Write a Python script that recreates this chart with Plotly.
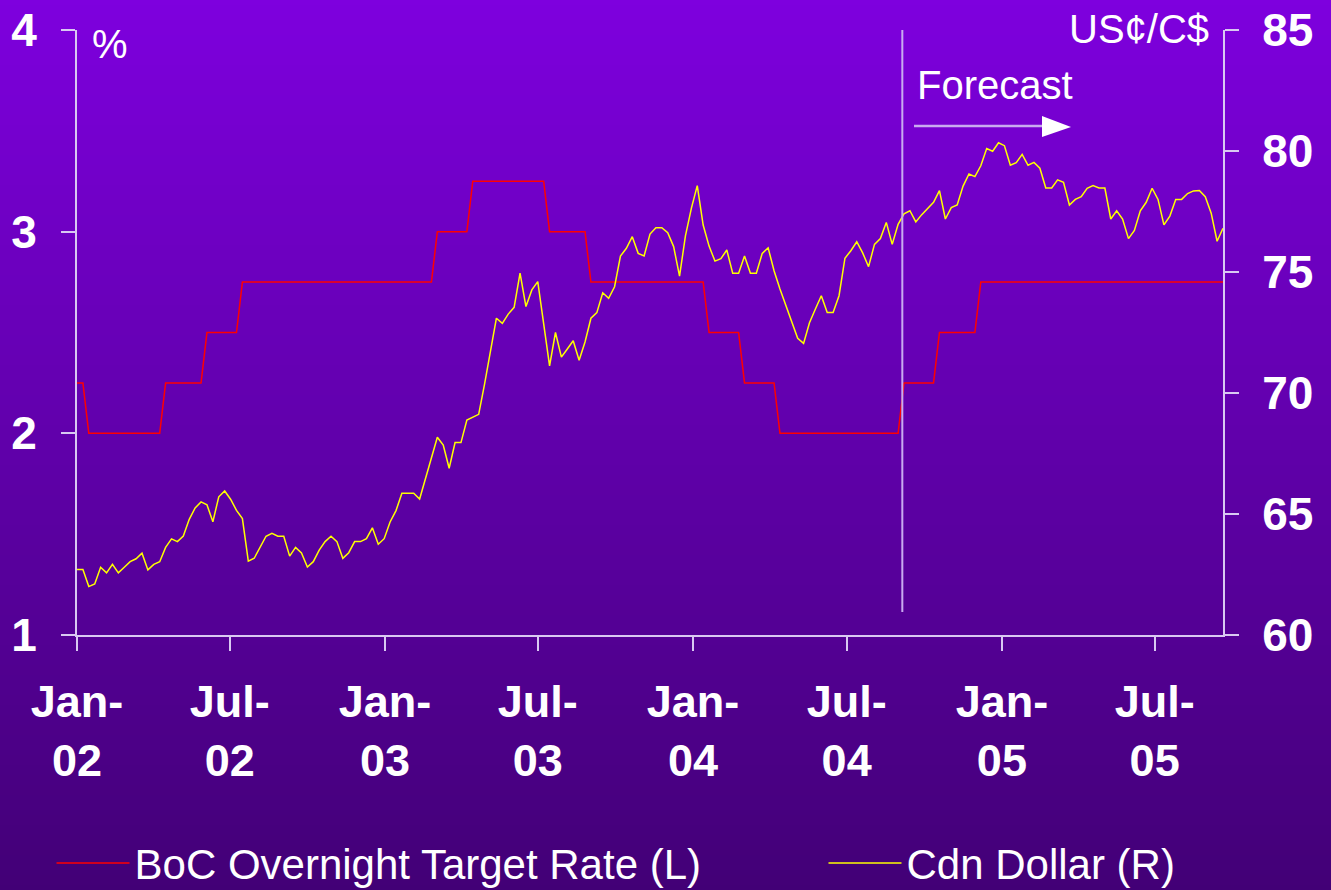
import pandas as pd
import plotly.graph_objects as go

# ---------------- data ----------------
start_date = "2002-01-01"
n_weeks = 195
week_dates = pd.date_range(start_date, periods=n_weeks, freq="7D")

# BoC overnight target rate (%), as levels with number of weeks at each level
rate_levels = [2.25, 2.00, 2.25, 2.50, 2.75, 3.00, 3.25, 3.00, 2.75, 2.50, 2.25, 2.00, 2.25, 2.50, 2.75]
rate_weeks = [2, 13, 7, 6, 33, 6, 13, 7, 20, 6, 6, 21, 6, 7, 42]

# Canadian dollar (US cents per C$), weekly
cdn_dollar = [
    62.71, 62.71, 62.00, 62.11, 62.80, 62.57, 62.92, 62.57, 62.80, 63.03,
    63.15, 63.38, 62.69, 62.92, 63.03, 63.62, 63.97, 63.86, 64.09, 64.78,
    65.25, 65.50, 65.38, 64.68, 65.71, 65.95, 65.61, 65.15, 64.81, 63.05,
    63.17, 63.62, 64.08, 64.20, 64.08, 64.08, 63.26, 63.62, 63.39, 62.81,
    63.03, 63.51, 63.86, 64.08, 63.86, 63.17, 63.40, 63.86, 63.86, 63.98,
    64.43, 63.75, 63.98, 64.67, 65.14, 65.86, 65.86, 65.86, 65.62, 66.48,
    67.36, 68.17, 67.85, 66.89, 67.95, 67.95, 68.88, 69.00, 69.12, 70.38,
    71.76, 73.09, 72.88, 73.26, 73.54, 74.95, 73.57, 74.26, 74.60, 72.93,
    71.12, 72.50, 71.48, 71.82, 72.16, 71.35, 72.11, 73.09, 73.32, 74.14,
    73.91, 74.39, 75.66, 75.98, 76.46, 75.77, 75.66, 76.57, 76.83, 76.83,
    76.62, 76.05, 74.83, 76.49, 77.63, 78.57, 76.94, 76.07, 75.45, 75.55,
    75.91, 74.95, 74.95, 75.66, 74.95, 74.95, 75.77, 76.00, 75.05, 74.30,
    73.64, 72.98, 72.26, 72.05, 72.90, 73.47, 74.02, 73.33, 73.33, 74.02,
    75.57, 75.88, 76.25, 75.79, 75.22, 76.14, 76.38, 77.05, 76.14, 76.97,
    77.40, 77.53, 77.07, 77.37, 77.62, 77.88, 78.36, 77.19, 77.66, 77.77,
    78.55, 79.05, 78.94, 79.39, 80.10, 79.99, 80.34, 80.22, 79.41, 79.52,
    79.86, 79.41, 79.53, 79.29, 78.47, 78.47, 78.81, 78.71, 77.77, 78.00,
    78.11, 78.46, 78.57, 78.47, 78.47, 77.19, 77.53, 77.19, 76.38, 76.72,
    77.53, 77.88, 78.46, 78.00, 76.95, 77.31, 78.00, 78.00, 78.24, 78.35,
    78.37, 78.11, 77.43, 76.27, 76.81,
]

tick_dates = ["2002-01-01", "2002-07-01", "2003-01-01", "2003-07-01",
              "2004-01-01", "2004-07-01", "2005-01-01", "2005-07-01"]
tick_labels = ["Jan-<br>02", "Jul-<br>02", "Jan-<br>03", "Jul-<br>03",
               "Jan-<br>04", "Jul-<br>04", "Jan-<br>05", "Jul-<br>05"]
x_range = ["2002-01-01", "2005-09-20"]
forecast_start = "2004-09-05"

# expand run-length rate series
boc_rate = []
for lvl, n in zip(rate_levels, rate_weeks):
    boc_rate += [lvl] * n

# ---------------- figure ----------------
W, H = 1331, 890
ML, MR, MT, MB = 77, 108, 30, 255
PW, PH = W - ML - MR, H - MT - MB

def px(x):
    return (x - ML) / PW

def py(y):
    return (H - MB - y) / PH

FONT = "Liberation Sans, Arial, sans-serif"
AXIS_COL = "#d9c9f2"

fig = go.Figure()
fig.add_trace(go.Scatter(x=week_dates, y=boc_rate, name="BoC Overnight Target Rate (L)",
                         mode="lines", line=dict(color="#ff0000", width=1.5), yaxis="y",
                         legend="legend"))
fig.add_trace(go.Scatter(x=week_dates, y=cdn_dollar, name="Cdn Dollar (R)",
                         mode="lines", line=dict(color="#ffff00", width=1.5), yaxis="y2",
                         legend="legend2"))

# background gradient
shapes = []
top, bot = (126, 0, 222), (66, 0, 118)
band = 5
for k in range(0, H, band):
    t = (k + band / 2) / H
    c = tuple(round(top[j] + (bot[j] - top[j]) * t) for j in range(3))
    shapes.append(dict(type="rect", xref="paper", yref="paper", layer="below",
                       x0=px(0), x1=px(W), y0=py(k + band + 0.5), y1=py(k),
                       line=dict(width=0), fillcolor="rgb(%d,%d,%d)" % c))

# forecast divider
shapes.append(dict(type="line", xref="x", yref="paper", x0=forecast_start, x1=forecast_start,
                   y0=py(612), y1=1, line=dict(color="#c9aaf0", width=2)))
# arrow
shapes.append(dict(type="line", xref="paper", yref="paper", x0=px(914), x1=px(1044),
                   y0=py(126), y1=py(126), line=dict(color="#c9aaf0", width=2.5)))
shapes.append(dict(type="path", xref="paper", yref="paper",
                   path="M %f %f L %f %f L %f %f Z" % (px(1042), py(116), px(1071), py(127),
                                                       px(1042), py(137)),
                   fillcolor="#ffffff", line=dict(width=0)))

annotations = [
    dict(text="%", x=px(90), y=py(44), xref="paper", yref="paper", xanchor="left",
         yanchor="middle", showarrow=False, font=dict(family=FONT, size=40, color="white")),
    dict(text="US¢/C$", x=px(1211), y=py(29), xref="paper", yref="paper", xanchor="right",
         yanchor="middle", showarrow=False, font=dict(family=FONT, size=40, color="white")),
    dict(text="Forecast", x=px(915), y=py(85), xref="paper", yref="paper", xanchor="left",
         yanchor="middle", showarrow=False, font=dict(family=FONT, size=40, color="white")),
]

tickfont = dict(family=FONT, size=46, color="white", weight="bold")
xtickfont = dict(family=FONT, size=45, color="white", weight="bold")
legfont = dict(family=FONT, size=42, color="white")

fig.update_layout(
    width=W, height=H, autosize=False,
    margin=dict(l=ML, r=MR, t=MT, b=MB, pad=0, autoexpand=False),
    paper_bgcolor="rgb(96,0,170)", plot_bgcolor="rgba(0,0,0,0)",
    shapes=shapes, annotations=annotations,
    xaxis=dict(type="date", range=x_range, tickvals=tick_dates, ticktext=tick_labels,
               showgrid=False, zeroline=False, showline=True, linecolor=AXIS_COL, linewidth=2,
               ticks="outside", ticklen=14, tickwidth=2, tickcolor=AXIS_COL,
               tickfont=xtickfont, ticklabelstandoff=12, automargin=False),
    yaxis=dict(range=[1, 4], tickvals=[1, 2, 3, 4], showgrid=False, zeroline=False,
               showline=True, linecolor=AXIS_COL, linewidth=2, ticks="outside", ticklen=14,
               tickwidth=2, tickcolor=AXIS_COL, tickfont=tickfont, ticklabelstandoff=15,
               automargin=False),
    yaxis2=dict(range=[60, 85], tickvals=[60, 65, 70, 75, 80, 85], overlaying="y", side="right",
                showgrid=False, zeroline=False, showline=True, linecolor=AXIS_COL, linewidth=2,
                ticks="outside", ticklen=14, tickwidth=2, tickcolor=AXIS_COL, tickfont=tickfont,
                ticklabelstandoff=14, automargin=False),
    showlegend=True,
    legend=dict(orientation="h", xref="container", yref="container", x=0.0387, y=0.03,
                xanchor="left", yanchor="middle", bgcolor="rgba(0,0,0,0)",
                font=legfont, itemwidth=73),
    legend2=dict(orientation="h", xref="container", yref="container", x=0.6187, y=0.03,
                 xanchor="left", yanchor="middle", bgcolor="rgba(0,0,0,0)",
                 font=legfont, itemwidth=73),
)

fig.write_html("out.html", post_script="document.body.style.margin='0px';",
               config={"displayModeBar": False})
